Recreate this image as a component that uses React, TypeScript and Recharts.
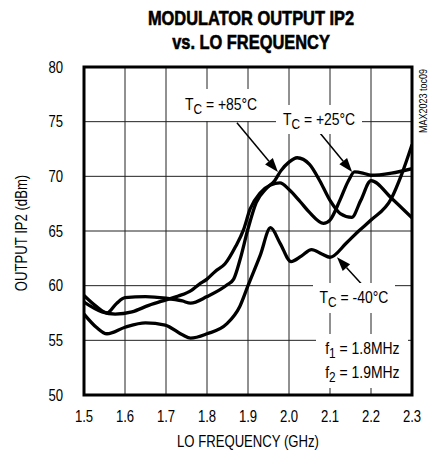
import React from "react";
import {
  LineChart,
  Line,
  XAxis,
  YAxis,
  CartesianGrid,
  ReferenceArea,
  ReferenceLine,
} from "recharts";

const xTicks = [1.5, 1.6, 1.7, 1.8, 1.9, 2.0, 2.1, 2.2, 2.3];
const yTicks = [50, 55, 60, 65, 70, 75, 80];

// TC = +85°C
const freqHot = [
  1.5, 1.53, 1.556, 1.58, 1.6, 1.65, 1.7, 1.74, 1.76, 1.8, 1.85, 1.865, 1.88,
  1.9, 1.92, 1.945, 1.965, 1.98, 2.0, 2.02, 2.05, 2.075, 2.1, 2.125, 2.153,
  2.175, 2.2, 2.25, 2.3,
];
const ip2Hot = [
  59.1, 58.1, 57.5, 58.4, 58.9, 59.0, 58.85, 58.6, 58.4, 59.0, 60.1, 60.6,
  62.3, 65.2, 67.6, 68.9, 69.6, 70.5, 71.3, 71.7, 71.1, 69.6, 67.8, 66.6,
  66.25, 67.8, 69.6, 68.0, 66.2,
];

// TC = +25°C
const freqRoom = [
  1.5, 1.544, 1.576, 1.617, 1.658, 1.7, 1.73, 1.763, 1.78, 1.8, 1.82, 1.844,
  1.87, 1.889, 1.905, 1.93, 1.955, 1.978, 2.0, 2.027, 2.05, 2.084, 2.1, 2.124,
  2.145, 2.16, 2.18, 2.2, 2.25, 2.3,
];
const ip2Room = [
  58.5, 57.6, 57.4, 57.6, 58.2, 58.7, 59.05, 59.6, 60.1, 60.6, 61.3, 62.0,
  63.6, 65.1, 67.0, 68.5, 69.2, 69.4, 68.8, 67.7, 66.7, 65.7, 66.0, 67.8,
  69.6, 70.4, 70.3, 70.1, 70.3, 70.7,
];

// TC = -40°C
const freqCold = [
  1.5, 1.53, 1.556, 1.6, 1.65, 1.698, 1.74, 1.76, 1.8, 1.848, 1.88, 1.9, 1.93,
  1.955, 1.978, 2.005, 2.03, 2.055, 2.08, 2.1, 2.14, 2.17, 2.2, 2.25, 2.275,
  2.3,
];
const ip2Cold = [
  57.4, 56.2, 55.6, 56.2, 56.6, 56.4, 55.5, 55.2, 55.6, 56.5, 58.1, 60.0,
  62.8, 65.3, 63.9, 62.2, 62.7, 63.3, 62.9, 62.6, 63.9, 65.0, 66.0, 68.0,
  70.2, 72.9,
];

const toPoints = (xs: number[], ys: number[]) =>
  xs.map((f, i) => ({ f, v: ys[i] }));

const hotData = toPoints(freqHot, ip2Hot);
const roomData = toPoints(freqRoom, ip2Room);
const coldData = toPoints(freqCold, ip2Cold);

// no narrow font installed, so squeeze Liberation Sans instead
const font = '"Liberation Sans", Arial, sans-serif';
const squeeze = 0.82;

const XTick = (props: any) => {
  const { x, y, payload } = props;
  return (
    <text
      transform={`translate(${x},${y}) scale(${squeeze},1)`}
      dy="0.71em"
      textAnchor="middle"
      fontFamily={font}
      fontSize={16}
      fill="#000"
    >
      {Number(payload.value).toFixed(1)}
    </text>
  );
};

const YTick = (props: any) => {
  const { x, y, payload } = props;
  return (
    <text
      transform={`translate(${x},${y}) scale(${squeeze},1)`}
      dy="0.355em"
      textAnchor="end"
      fontFamily={font}
      fontSize={16}
      fill="#000"
    >
      {payload.value}
    </text>
  );
};

// line with a filled arrowhead at the second point
const Arrow = (props: any) => {
  const { x1, y1, x2, y2 } = props;
  const a = Math.atan2(y2 - y1, x2 - x1);
  const len = 14;
  const w = 5;
  const bx = x2 - len * Math.cos(a);
  const by = y2 - len * Math.sin(a);
  const px = -Math.sin(a) * w;
  const py = Math.cos(a) * w;
  return (
    <g>
      <line x1={x1} y1={y1} x2={bx} y2={by} stroke="#000" strokeWidth={1.5} />
      <polygon
        points={`${x2},${y2} ${bx + px},${by + py} ${bx - px},${by - py}`}
        fill="#000"
      />
    </g>
  );
};

const Narrow = ({ children }: { children: React.ReactNode }) => (
  <span style={{ display: "inline-block", transform: `scaleX(${squeeze})` }}>
    {children}
  </span>
);

const Box = ({
  left,
  top,
  width,
  height,
  children,
}: {
  left: number;
  top: number;
  width: number;
  height: number;
  children: React.ReactNode;
}) => (
  <div
    style={{
      position: "absolute",
      left,
      top,
      width,
      height,
      background: "#fff",
      display: "flex",
      flexDirection: "column",
      alignItems: "center",
      justifyContent: "center",
      fontFamily: font,
      fontSize: 17,
      lineHeight: "24px",
      color: "#000",
      whiteSpace: "nowrap",
    }}
  >
    {children}
  </div>
);

const Sub = ({ children }: { children: React.ReactNode }) => (
  <span style={{ fontSize: "0.85em", position: "relative", top: "0.3em" }}>
    {children}
  </span>
);

export default function App() {
  return (
    <div style={{ position: "relative", width: 433, height: 458, background: "#fff" }}>
      <style>{`body{margin:0}`}</style>
      <div
        style={{
          position: "absolute",
          left: 251,
          top: 6,
          transform: `translateX(-50%) scaleX(${squeeze})`,
          textAlign: "center",
          fontFamily: font,
          fontWeight: 700,
          fontSize: 20,
          lineHeight: "24px",
          whiteSpace: "nowrap",
          WebkitTextStroke: "0.6px #000",
        }}
      >
        MODULATOR OUTPUT IP2
        <br />
        vs. LO FREQUENCY
      </div>

      <LineChart
        width={433}
        height={458}
        margin={{ top: 67, right: 21, bottom: 33, left: 24 }}
        style={{ position: "absolute", left: 0, top: 0 }}
      >
        <CartesianGrid stroke="#222" strokeWidth={1} />
        <XAxis
          type="number"
          dataKey="f"
          domain={[1.5, 2.3]}
          ticks={xTicks}
          allowDataOverflow
          height={30}
          axisLine={false}
          tickLine={false}
          tickSize={6}
          tickMargin={10}
          tick={<XTick />}
        />
        <YAxis
          type="number"
          domain={[50, 80]}
          ticks={yTicks}
          width={60}
          axisLine={false}
          tickLine={false}
          tickSize={6}
          tickMargin={15}
          tick={<YTick />}
        />
        <Line
          data={hotData}
          dataKey="v"
          type="monotone"
          stroke="#000"
          strokeWidth={3.3}
          dot={false}
          isAnimationActive={false}
        />
        <Line
          data={roomData}
          dataKey="v"
          type="monotone"
          stroke="#000"
          strokeWidth={3.3}
          dot={false}
          isAnimationActive={false}
        />
        <Line
          data={coldData}
          dataKey="v"
          type="monotone"
          stroke="#000"
          strokeWidth={3.3}
          dot={false}
          isAnimationActive={false}
        />
        <ReferenceLine
          segment={[
            { x: 1.873, y: 74.9 },
            { x: 1.973, y: 70.4 },
          ]}
          shape={Arrow}
        />
        <ReferenceLine
          segment={[
            { x: 2.068, y: 74.3 },
            { x: 2.154, y: 70.4 },
          ]}
          shape={Arrow}
        />
        <ReferenceLine
          segment={[
            { x: 2.178, y: 60.1 },
            { x: 2.117, y: 62.6 },
          ]}
          shape={Arrow}
        />
        <ReferenceArea
          x1={1.5}
          x2={2.3}
          y1={50}
          y2={80}
          fill="none"
          fillOpacity={0}
          stroke="#000"
          strokeWidth={3}
        />
      </LineChart>

      <Box left={180} top={89} width={82} height={32}>
        <Narrow>
          T<Sub>C</Sub> = +85°C
        </Narrow>
      </Box>
      <Box left={276} top={105} width={86} height={29}>
        <Narrow>
          T<Sub>C</Sub> = +25°C
        </Narrow>
      </Box>
      <Box left={313} top={283} width={82} height={30}>
        <Narrow>
          T<Sub>C</Sub> = -40°C
        </Narrow>
      </Box>
      <Box left={316} top={334} width={92} height={54}>
        <Narrow>
          f<Sub>1</Sub> = 1.8MHz
        </Narrow>
        <Narrow>
          f<Sub>2</Sub> = 1.9MHz
        </Narrow>
      </Box>

      <div
        style={{
          position: "absolute",
          left: 22,
          top: 233,
          transform: `translate(-50%, -50%) rotate(-90deg) scaleX(${squeeze})`,
          fontFamily: font,
          fontSize: 16,
          whiteSpace: "nowrap",
        }}
      >
        OUTPUT IP2 (dBm)
      </div>
      <div
        style={{
          position: "absolute",
          left: 248,
          top: 442,
          transform: `translate(-50%, -50%) scaleX(${squeeze})`,
          fontFamily: font,
          fontSize: 16,
          whiteSpace: "nowrap",
        }}
      >
        LO FREQUENCY (GHz)
      </div>
      <div
        style={{
          position: "absolute",
          left: 423,
          top: 101,
          transform: `translate(-50%, -50%) rotate(-90deg) scaleX(${squeeze})`,
          fontFamily: font,
          fontSize: 11,
          whiteSpace: "nowrap",
        }}
      >
        MAX2023 toc09
      </div>
    </div>
  );
}
